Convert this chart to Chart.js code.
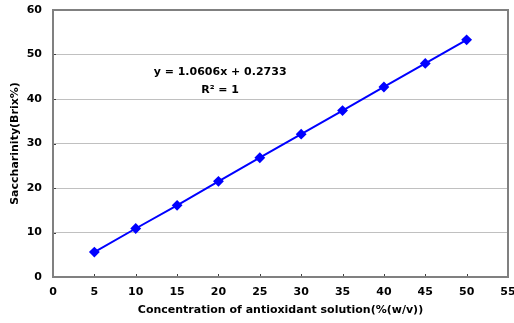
<!DOCTYPE html>
<html>
<head>
<meta charset="utf-8">
<script src="https://cdn.jsdelivr.net/npm/chart.js@4/dist/chart.umd.min.js"></script>
<style>
  html, body { margin: 0; padding: 0; background: #fff; }
  #wrap { width: 514px; height: 323px; }
</style>
</head>
<body>
<div id="wrap"><canvas id="myChart" width="514" height="323"></canvas></div>
<script>
// concentration of antioxidant solution (%(w/v))
const concentration = [5, 10, 15, 20, 25, 30, 35, 40, 45, 50];
// saccharinity (Brix%)
const brix = [5.6, 10.9, 16.1, 21.5, 26.8, 32.1, 37.4, 42.7, 48.0, 53.3];
const xTicks = [0, 5, 10, 15, 20, 25, 30, 35, 40, 45, 50, 55];
const yTicks = [0, 10, 20, 30, 40, 50, 60];
const equation = ["y = 1.0606x + 0.2733", "R² = 1"];
const equationAt = { x: 20.2, y: 46 };

const textFont = { family: "DejaVu Sans", size: 11, weight: "bold" };

const points = concentration.map((c, i) => ({ x: c, y: brix[i] }));

// frame around the plot area, inner tick marks, trendline equation
const framePlugin = {
    id: "frame",
    afterDatasetsDraw(chart) {
        const { ctx, chartArea: a, scales } = chart;
        ctx.save();
        // inner ticks
        ctx.strokeStyle = "#404040";
        ctx.lineWidth = 1;
        ctx.beginPath();
        scales.x.ticks.forEach(t => {
            const px = Math.round(scales.x.getPixelForValue(t.value)) + 0.5;
            ctx.moveTo(px, a.bottom);
            ctx.lineTo(px, a.bottom - 3);
        });
        scales.y.ticks.forEach(t => {
            const py = Math.round(scales.y.getPixelForValue(t.value)) + 0.5;
            ctx.moveTo(a.left, py);
            ctx.lineTo(a.left + 3, py);
        });
        ctx.stroke();
        ctx.strokeStyle = "#808080";
        ctx.lineWidth = 2;
        ctx.strokeRect(Math.round(a.left), Math.round(a.top),
            Math.round(a.right - a.left), Math.round(a.bottom - a.top));
        ctx.fillStyle = "#000";
        ctx.font = "bold 11px 'DejaVu Sans'";
        ctx.textAlign = "center";
        ctx.textBaseline = "middle";
        const px = scales.x.getPixelForValue(equationAt.x);
        const py = scales.y.getPixelForValue(equationAt.y);
        ctx.fillText(equation[0], px, py);
        ctx.fillText(equation[1], px, py + 18);
        ctx.restore();
    }
};

new Chart("myChart", {
    type: "scatter",
    data: {
        datasets: [{
            data: points,
            showLine: true,
            borderColor: "#0000ff",
            backgroundColor: "#0000ff",
            borderWidth: 2,
            pointStyle: "rectRot",
            pointRadius: 4,
            pointHoverRadius: 4,
            clip: false
        }]
    },
    options: {
        responsive: false,
        animation: false,
        layout: { padding: { top: 10, right: 6, left: 0, bottom: 0 } },
        plugins: {
            legend: { display: false },
            tooltip: { enabled: false }
        },
        scales: {
            x: {
                type: "linear",
                min: 0,
                max: 55,
                afterBuildTicks: s => { s.ticks = xTicks.map(v => ({ value: v })); },
                afterFit: s => { s.height = 46; s.paddingLeft = 0; s.paddingRight = 0; },
                grid: { display: false },
                border: { display: false },
                ticks: { color: "#000", font: textFont, padding: 1, maxRotation: 0 },
                title: {
                    display: true,
                    text: "Concentration of antioxidant solution(%(w/v))",
                    color: "#000",
                    font: textFont,
                    padding: { top: 0, bottom: 6 }
                }
            },
            y: {
                type: "linear",
                min: 0,
                max: 60,
                afterBuildTicks: s => { s.ticks = yTicks.map(v => ({ value: v })); },
                afterFit: s => { s.width = 53; s.paddingTop = 0; s.paddingBottom = 0; },
                grid: { color: "#c0c0c0", drawTicks: false },
                border: { display: false },
                ticks: { color: "#000", font: textFont, padding: 11 },
                title: {
                    display: true,
                    text: "Saccharinity(Brix%)",
                    color: "#000",
                    font: textFont,
                    padding: { top: 9, bottom: 0 }
                }
            }
        }
    },
    plugins: [framePlugin]
});
</script>
</body>
</html>
